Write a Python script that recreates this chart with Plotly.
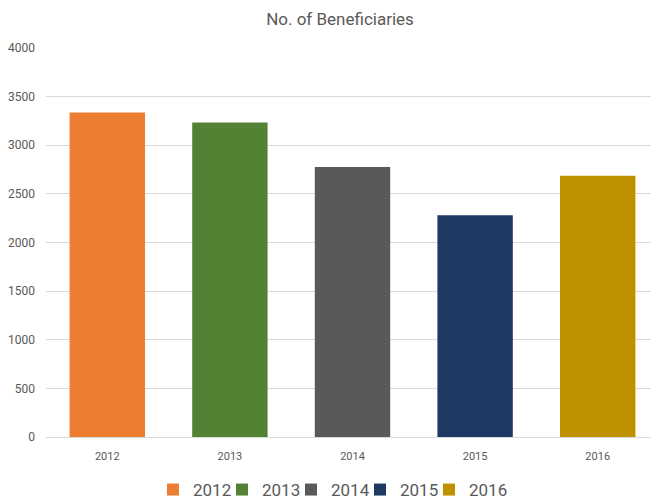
import plotly.graph_objects as go

years = ["2012", "2013", "2014", "2015", "2016"]
beneficiaries = [3338, 3235, 2776, 2280, 2687]
colors = ["#ED7D31", "#548235", "#595959", "#203864", "#BF9000"]
y_ticks = [0, 500, 1000, 1500, 2000, 2500, 3000, 3500, 4000]

font_family = "Roboto, Arial"
legend_ids = ["legend", "legend2", "legend3", "legend4", "legend5"]

fig = go.Figure()
for yr, val, col, lg in zip(years, beneficiaries, colors, legend_ids):
    fig.add_trace(go.Bar(x=[yr], y=[val], name=yr, legend=lg,
                         marker=dict(color=col, line=dict(width=0))))

legend_layout = {}
for i, lg in enumerate(legend_ids):
    legend_layout[lg] = dict(orientation="h", xref="container", yref="container",
                             x=(145 + 69 * i) / 651, xanchor="left",
                             y=11 / 493, yanchor="middle",
                             font=dict(family=font_family, size=17, color="#595959"),
                             bgcolor="rgba(0,0,0,0)", borderwidth=0)

fig.update_layout(
    width=651, height=493,
    margin=dict(l=36, r=0, t=40, b=64),
    paper_bgcolor="white", plot_bgcolor="white",
    barmode="overlay", bargap=0.385,
    title=dict(text="No. of Beneficiaries", x=0.51, xanchor="center", y=1 - 11 / 493, yanchor="middle",
               font=dict(family=font_family, size=17, color="#595959")),
    xaxis=dict(categoryorder="array", categoryarray=years, showgrid=False, showline=True,
               linecolor="#D9D9D9", linewidth=1, ticks="", ticklabelstandoff=9,
               tickfont=dict(family=font_family, size=11, color="#595959")),
    yaxis=dict(range=[0, 4000], tickvals=y_ticks, showgrid=True, gridcolor="#D9D9D9", gridwidth=1,
               zeroline=False, showline=False, ticks="", ticklabelstandoff=10,
               tickfont=dict(family=font_family, size=12, color="#595959")),
    showlegend=True,
    **legend_layout,
)
fig.write_html("out.html")
